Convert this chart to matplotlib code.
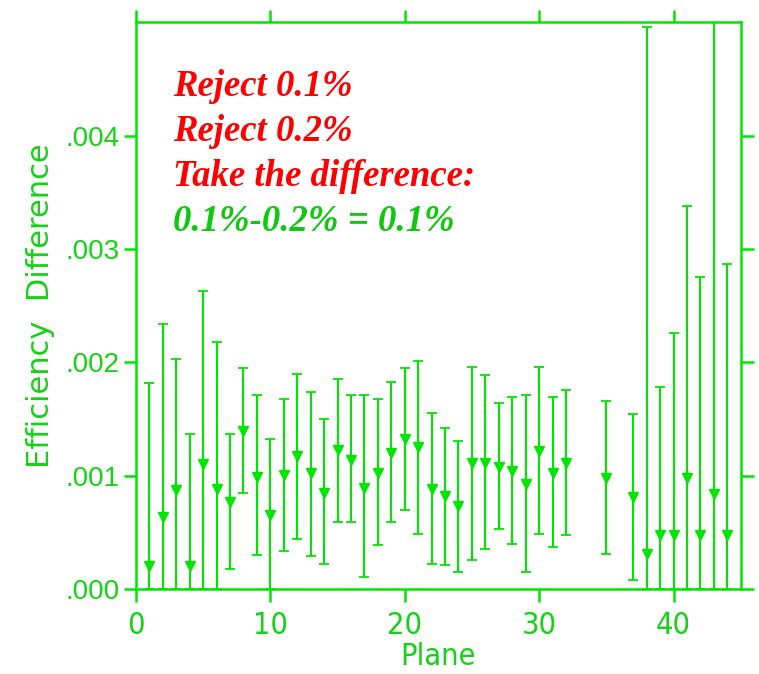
import matplotlib
matplotlib.use("Agg")
import matplotlib.pyplot as plt
import numpy as np

planes = [1, 2, 3, 4, 5, 6, 7, 8, 9, 10, 11, 12, 13, 14, 15, 16, 17, 18, 19, 20, 21, 22,
          23, 24, 25, 26, 27, 28, 29, 30, 31, 32, 35, 37, 38, 39, 40, 41, 42, 43, 44]
values = [0.00020, 0.00064, 0.00087, 0.00020, 0.00110, 0.00088, 0.00077, 0.00139, 0.00099, 0.00065,
          0.00101, 0.00117, 0.00102, 0.00085, 0.00123, 0.00114, 0.00089, 0.00102, 0.00120, 0.00132,
          0.00125, 0.00088, 0.00082, 0.00073, 0.00111, 0.00111, 0.00108, 0.00104, 0.00093, 0.00122,
          0.00102, 0.00111, 0.00098, 0.00081, 0.00031, 0.00048, 0.00048, 0.00098, 0.00048, 0.00084,
          0.00048]
upper = [0.00182, 0.00234, 0.00203, 0.00137, 0.00263, 0.00218, 0.00137, 0.00195, 0.00171, 0.00132,
         0.00168, 0.00190, 0.00174, 0.00150, 0.00185, 0.00171, 0.00171, 0.00168, 0.00183, 0.00195,
         0.00201, 0.00155, 0.00142, 0.00131, 0.00196, 0.00189, 0.00164, 0.00169, 0.00171, 0.00196,
         0.00169, 0.00176, 0.00166, 0.00154, 0.00496, 0.00178, 0.00226, 0.00338, 0.00275, 0.00560,
         0.00287]
lower = [0.0, 0.0, 0.0, 0.0, 0.0, 0.0, 0.00018, 0.00085, 0.00030, 0.0,
         0.00034, 0.00044, 0.00029, 0.00022, 0.00059, 0.00059, 0.00011, 0.00039, 0.00059, 0.00070,
         0.00049, 0.00022, 0.00021, 0.00015, 0.00026, 0.00035, 0.00053, 0.00040, 0.00015, 0.00049,
         0.00037, 0.00048, 0.00031, 0.00008, 0.0, 0.0, 0.0, 0.0, 0.0, 0.0,
         0.0]

xticks = [0, 10, 20, 30, 40]
yticks = [0.000, 0.001, 0.002, 0.003, 0.004]
ytick_labels = [".000", ".001", ".002", ".003", ".004"]

notes_red = ["Reject 0.1%", "Reject 0.2%", "Take the difference:"]
note_green = "0.1%-0.2% = 0.1%"

GREEN = "#00E600"
TXT_GREEN = "#14D214"

fig = plt.figure(figsize=(7.59, 6.74), dpi=100)
ax = fig.add_axes([0.179, 0.126, 0.797, 0.841])

v = np.array(values)
yerr = np.vstack([v - np.array(lower), np.array(upper) - v])
ax.errorbar(planes, v, yerr=yerr, fmt="v", color=GREEN, ecolor=GREEN,
            elinewidth=1.5, capsize=3.5, capthick=1.3, markersize=6.5)

ax.set_xlim(0, 45)
ax.set_ylim(0, 0.005)

for s in ax.spines.values():
    s.set_color(GREEN)
    s.set_linewidth(1.8)

ax.set_xticks(xticks)
ax.set_xticklabels([str(t) for t in xticks], family="DejaVu Sans", fontstretch="condensed",
                   fontsize=22, color=TXT_GREEN)
ax.set_yticks(yticks)
ax.set_yticklabels(ytick_labels, family=["Liberation Sans", "DejaVu Sans"], fontsize=20,
                   color=TXT_GREEN)
ax.tick_params(axis="both", which="both", direction="out", color=GREEN, width=1.8, length=9,
               top=True, right=True, labeltop=False, labelright=False)
ax.tick_params(axis="x", pad=7)
ax.tick_params(axis="y", pad=3)

ax.set_xlabel("Plane", family="DejaVu Sans", fontstretch="condensed", fontsize=22,
              color=TXT_GREEN, labelpad=1)
ax.set_ylabel("Efficiency  Difference", family="DejaVu Sans", fontsize=22,
              color=TXT_GREEN, labelpad=7)

serif = ["Liberation Serif", "DejaVu Serif"]
ys = [96, 141, 186]
for txt, yp in zip(notes_red, ys):
    fig.text(173 / 759, 1 - yp / 674, txt, color="#FF0000", fontsize=26.5,
             fontweight="bold", fontstyle="italic", family=serif, va="baseline", ha="left")
fig.text(173 / 759, 1 - 231 / 674, note_green, color="#10C810", fontsize=26.5,
         fontweight="bold", fontstyle="italic", family=serif, va="baseline", ha="left")

fig.savefig("out.png", dpi=100)
